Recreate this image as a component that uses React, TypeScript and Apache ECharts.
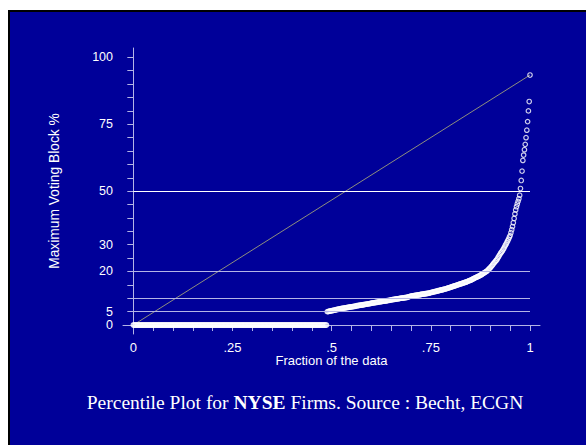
import React, { useEffect, useRef } from "react";
import * as echarts from "echarts";

// Firms whose largest voting block is zero (no disclosed blockholder)
const zeroBlockFirms = 244;

// Remaining firms, largest voting block (%) in ascending order
const positiveBlocks = [
  5.0, 5.0, 5.1, 5.2, 5.2, 5.3, 5.4, 5.4, 5.5, 5.6,
  5.6, 5.7, 5.8, 5.8, 5.9, 6.0, 6.0, 6.1, 6.2, 6.2,
  6.3, 6.3, 6.4, 6.4, 6.5, 6.5, 6.6, 6.6, 6.7, 6.7, 6.8,
  6.8, 6.9, 6.9, 7.0, 7.0, 7.1, 7.2, 7.2, 7.3, 7.3,
  7.4, 7.4, 7.5, 7.5, 7.6, 7.6, 7.7, 7.7, 7.8, 7.8,
  7.9, 7.9, 8.0, 8.0, 8.1,
  8.2, 8.2, 8.3, 8.3, 8.4, 8.4, 8.5, 8.5, 8.6, 8.6,
  8.7, 8.7, 8.8, 8.8, 8.9, 8.9, 9.0, 9.0, 9.0, 9.1,
  9.1, 9.2, 9.2, 9.3, 9.4,
  9.4, 9.5, 9.5, 9.6, 9.6, 9.7, 9.7, 9.8, 9.8, 9.9,
  9.9, 10.0, 10.0, 10.0, 10.1, 10.1, 10.2, 10.2, 10.3, 10.3,
  10.4, 10.5, 10.6, 10.7, 10.8,
  10.8, 10.9, 10.9, 11.0, 11.0, 11.1, 11.1, 11.2, 11.2, 11.3,
  11.3, 11.4, 11.4, 11.5, 11.5, 11.6, 11.6, 11.7, 11.7, 11.8,
  11.8, 11.9, 11.9, 12.0, 12.1,
  12.2, 12.2, 12.3, 12.4, 12.5, 12.5, 12.6, 12.7, 12.8, 12.8,
  12.9, 13.0, 13.1, 13.1, 13.2, 13.3, 13.4, 13.4, 13.5, 13.6,
  13.7, 13.8, 13.9, 14.0, 14.1,
  14.2, 14.3, 14.4, 14.5, 14.6, 14.7, 14.8, 14.9, 15.0, 15.1,
  15.2, 15.3, 15.4, 15.5, 15.6, 15.7, 15.8, 15.9, 16.0, 16.1,
  16.2, 16.4, 16.5, 16.6, 16.7, 16.8, 17.0, 17.2,
  17.3, 17.5, 17.6, 17.8, 17.9, 18.0, 18.2, 18.3, 18.5, 18.7,
  18.8, 19.0, 19.2, 19.4, 19.6, 19.8, 20.0,
  20.2, 20.5, 20.8, 21.1, 21.4, 21.8, 22.1, 22.5, 22.9, 23.3,
  23.6, 24.0, 24.3,
  24.8, 25.3, 25.8, 26.3, 26.8, 27.2, 27.6, 28.1,
  28.6, 29.2, 29.8, 30.3, 30.9, 31.5, 32.1, 32.8, 33.4,
  34.5, 35.6, 36.8, 38.2, 39.8, 41.5, 43.0, 44.2, 45.2, 46.2,
  47.2, 48.5, 51.0, 54.0, 57.5, 61.5, 63.5, 65.5, 67.5, 70.0,
  72.8, 76.0, 80.0, 83.5, 93.4,
];

// Horizontal reference levels (%)
const guideLevels = [5, 10, 20, 50];

// Axis ticks and labels
const xTickValues = [
  0, 0.05, 0.1, 0.15, 0.2, 0.25, 0.3, 0.35, 0.4, 0.45, 0.5,
  0.55, 0.6, 0.65, 0.7, 0.75, 0.8, 0.85, 0.9, 0.95, 1,
];
const xLabelValues = [0, 0.25, 0.5, 0.75, 1];
const xLabelTexts = ["0", ".25", ".5", ".75", "1"];
const yTickValues = [
  0, 5, 10, 15, 20, 25, 30, 35, 40, 45, 50,
  55, 60, 65, 70, 75, 80, 85, 90, 95, 100,
];
const yLabelValues = [0, 5, 20, 30, 50, 75, 100];

const BG = "#000099";
const AXIS = "#b4b4e6";
const SANS = "'Liberation Sans', Arial, sans-serif";
const SERIF = "'Liberation Serif', 'Times New Roman', serif";

export default function App() {
  const ref = useRef<HTMLDivElement>(null);

  useEffect(() => {
    if (!ref.current) return;
    const chart = echarts.init(ref.current, undefined, { renderer: "svg" });

    const sorted = [
      ...new Array(zeroBlockFirms).fill(0),
      ...positiveBlocks,
    ];
    const n = sorted.length;
    const points = sorted.map((v, i) => [i / (n - 1), v]);
    const top = sorted[n - 1];

    chart.setOption({
      animation: false,
      backgroundColor: BG,
      grid: { left: 113, right: 46, top: 36, bottom: 111 },
      xAxis: {
        type: "value",
        min: -0.026,
        max: 1.0252,
        name: "Fraction of the data",
        nameLocation: "middle",
        nameGap: 21.5,
        nameMoveOverlap: false,
        nameTextStyle: {
          color: "#ffffff",
          fontFamily: SANS,
          fontSize: 13,
          lineHeight: 10,
        },
        axisLine: { show: true, lineStyle: { color: AXIS, width: 1 } },
        axisTick: {
          show: true,
          inside: false,
          length: 6,
          customValues: xTickValues,
          lineStyle: { color: AXIS, width: 1 },
        },
        axisLabel: {
          show: true,
          customValues: xLabelValues,
          margin: 8,
          color: "#ffffff",
          fontFamily: SANS,
          fontSize: 13,
          lineHeight: 10,
          formatter: (v: number) => {
            const k = xLabelValues.findIndex((x) => Math.abs(x - v) < 1e-9);
            return k >= 0 ? xLabelTexts[k] : "";
          },
        },
        splitLine: { show: false },
      },
      yAxis: {
        type: "value",
        min: -3.36,
        max: 103.5,
        name: "Maximum Voting Block %",
        nameLocation: "middle",
        nameGap: 62,
        nameMoveOverlap: false,
        nameRotate: 90,
        nameTextStyle: { color: "#ffffff", fontFamily: SANS, fontSize: 13.8 },
        axisLine: { show: true, lineStyle: { color: AXIS, width: 1 } },
        axisTick: {
          show: true,
          inside: false,
          length: 6,
          customValues: yTickValues,
          lineStyle: { color: AXIS, width: 1 },
        },
        axisLabel: {
          show: true,
          customValues: yLabelValues,
          margin: 10,
          color: "#ffffff",
          fontFamily: SANS,
          fontSize: 12.5,
          lineHeight: 11,
        },
        splitLine: { show: false },
      },
      series: [
        {
          type: "line",
          data: [
            [0, 0],
            [1, top],
          ],
          symbol: "none",
          silent: true,
          z: 3,
          lineStyle: { color: "#8e8e7e", width: 1 },
          markLine: {
            symbol: "none",
            silent: true,
            animation: false,
            label: { show: false },
            data: guideLevels.map((lvl) => [
              {
                coord: [0, lvl],
                lineStyle: {
                  color: lvl === 50 ? "#ffffff" : AXIS,
                  width: 1,
                  type: "solid",
                },
              },
              { coord: [1, lvl] },
            ]),
          },
        },
        {
          type: "scatter",
          data: points,
          symbol: "circle",
          symbolSize: 4.5,
          silent: true,
          z: 4,
          itemStyle: {
            color: "rgba(0,0,0,0)",
            borderColor: "#ffffff",
            borderWidth: 1.2,
          },
        },
      ],
      graphic: [
        {
          type: "text",
          x: 295,
          y: 390,
          silent: true,
          style: {
            text: "{a|Percentile Plot for }{b|NYSE}{a| Firms. Source : Becht, ECGN}",
            align: "center",
            verticalAlign: "middle",
            fill: "#ffffff",
            font: `19.5px ${SERIF}`,
            rich: {
              a: { fill: "#ffffff", fontFamily: SERIF, fontSize: 19.5 },
              b: {
                fill: "#ffffff",
                fontFamily: SERIF,
                fontSize: 19.5,
                fontWeight: "bold",
              },
            },
          },
        },
      ],
    });

    return () => chart.dispose();
  }, []);

  return (
    <div
      style={{
        position: "fixed",
        left: 8,
        top: 10,
        width: 576,
        height: 433,
        borderLeft: "2px solid #000",
        borderTop: "2px solid #000",
        background: BG,
      }}
    >
      <div ref={ref} style={{ width: 576, height: 433 }} />
    </div>
  );
}
